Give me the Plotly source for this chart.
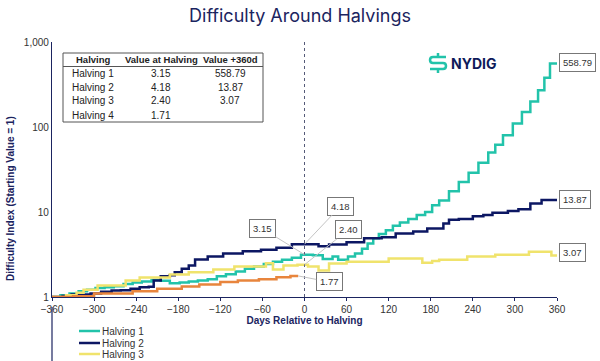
import math
import plotly.graph_objects as go

# ---------------- data ----------------
h1_days = [-360, -348, -335, -322, -310, -298, -285, -272, -258, -245, -232, -218, -205, -192, -178,
           -165, -152, -138, -125, -112, -98, -85, -72, -58, -45, -32, -18, -5, 12, 26, 40, 48, 62,
           72, 82, 90, 98, 106, 116, 126, 136, 148, 160, 172, 182, 192, 206, 220, 234, 248, 262, 272,
           283, 297, 310, 322, 333, 342, 350, 360]
h1_vals = [1.00, 1.05, 1.10, 1.17, 1.22, 1.28, 1.30, 1.34, 1.42, 1.48, 1.52, 1.58, 1.55, 1.45, 1.48,
           1.52, 1.56, 1.62, 1.75, 1.85, 2.00, 2.15, 2.28, 2.45, 2.60, 2.75, 2.90, 3.15, 3.10, 2.80, 3.00,
           2.75, 3.00, 3.25, 3.70, 4.25, 4.90, 5.50, 6.10, 6.90, 7.50, 8.30, 9.20, 10.0, 12.0, 13.7,
           17.5, 22.5, 29.0, 38.0, 50.0, 62.0, 80.0, 110.0, 150.0, 200.0, 270.0, 380.0, 558.79, 558.79]

h2_days = [-360, -345, -332, -318, -305, -290, -275, -262, -248, -235, -222, -215, -205, -192, -185,
           -175, -165, -156, -138, -116, -88, -62, -40, -18, 20, 35, 60, 85, 110, 130, 155, 175, 198,
           206, 220, 240, 255, 268, 290, 305, 322, 338, 360]
h2_vals = [1.00, 1.03, 1.07, 1.07, 1.10, 1.15, 1.19, 1.20, 1.25, 1.30, 1.32, 1.56, 1.75, 1.80, 1.96,
           2.15, 2.35, 2.76, 3.00, 3.25, 3.46, 3.60, 3.80, 4.18, 3.95, 4.15, 4.40, 4.90, 5.05, 5.60,
           5.90, 6.40, 7.30, 8.10, 8.30, 8.90, 9.20, 9.80, 10.3, 10.8, 12.6, 13.87, 13.87]

h3_days = [-360, -340, -325, -315, -295, -255, -235, -192, -165, -130, -100, -55, -45, -30, -10, 5,
           20, 35, 60, 120, 168, 182, 192, 232, 272, 320, 352, 360]
h3_vals = [1.00, 1.05, 1.12, 1.22, 1.37, 1.56, 1.70, 1.84, 1.96, 2.10, 2.28, 2.50, 2.10, 2.35, 2.40,
           2.28, 2.05, 2.47, 2.60, 2.83, 2.53, 2.65, 2.75, 3.00, 3.15, 3.40, 3.07, 3.07]

h4_days = [-360, -330, -300, -245, -210, -175, -150, -120, -95, -65, -40, -20, -9]
h4_vals = [1.00, 1.02, 1.10, 1.17, 1.25, 1.33, 1.40, 1.50, 1.56, 1.62, 1.71, 1.77, 1.77]

series_names = ["Halving 1", "Halving 2", "Halving 3", "Halving 4"]
series_colors = ["#22C3AA", "#0C1763", "#F0E36C", "#E8853D"]
legend_visible = [True, True, True, False]  # 4th entry is cropped off in the reference

table_header = ["Halving", "Value at Halving", "Value +360d"]
table_rows = [["Halving 1", "3.15", "558.79"],
              ["Halving 2", "4.18", "13.87"],
              ["Halving 3", "2.40", "3.07"],
              ["Halving 4", "1.71", ""]]

x_ticks = [-360, -300, -240, -180, -120, -60, 0, 60, 120, 180, 240, 300, 360]
y_ticks = [1, 10, 100, 1000]
y_tick_text = ["1", "10", "100", "1,000"]

# ---------------- layout helpers ----------------
W, H = 600, 361
L, R, T, B = 52, 43, 42, 64
PW, PH = W - L - R, H - T - B


def px(sx):
    """screen pixel x -> paper fraction"""
    return (sx - L) / PW


def py(sy):
    """screen pixel y -> paper fraction"""
    return (H - B - sy) / PH


NAVY = "#1B2460"
TXT = "#333333"

fig = go.Figure()
all_days = [h1_days, h2_days, h3_days, h4_days]
all_vals = [h1_vals, h2_vals, h3_vals, h4_vals]
for name, col, d, v in zip(series_names, series_colors, all_days, all_vals):
    fig.add_trace(go.Scatter(x=d, y=v, mode="lines", name=name, line_shape="hv",
                             line=dict(color=col, width=2.5), showlegend=False))

fig.update_layout(
    width=W, height=H,
    margin=dict(l=L, r=R, t=T, b=B, autoexpand=False),
    paper_bgcolor="white", plot_bgcolor="white",
    font=dict(family="Liberation Sans, Arial, sans-serif", size=10, color=TXT),
    title=dict(text="Difficulty Around Halvings", x=300 / W, xanchor="center",
               y=1 - 16 / H, yanchor="middle",
               font=dict(family="Inter, Open Sans, sans-serif", size=18, color=NAVY)),
    xaxis=dict(range=[-360, 360], tickvals=x_ticks, showgrid=False, zeroline=False, automargin=False,
               showline=True, linecolor=NAVY, linewidth=1.2, ticks="outside", ticklen=3,
               tickcolor=NAVY, tickfont=dict(size=10, color=TXT),
               title=dict(text="<b>Days Relative to Halving</b>", font=dict(size=10, color=NAVY),
                          standoff=2)),
    yaxis=dict(type="log", range=[0, 3], tickvals=y_ticks, ticktext=y_tick_text, showgrid=False,
               automargin=False,
               zeroline=False, showline=True, linecolor=NAVY, linewidth=1.2, ticks="",
               tickfont=dict(size=10, color=TXT)),
    showlegend=False,
)

shapes = []
# vertical dotted line at halving
shapes.append(dict(type="line", xref="x", yref="paper", x0=0, x1=0, y0=0, y1=1,
                   line=dict(color="#555a78", width=1, dash="dot")))
# y axis extension into legend area
shapes.append(dict(type="line", xref="paper", yref="paper", x0=0, x1=0, y0=py(361), y1=py(307),
                   line=dict(color=NAVY, width=1.2)))
# table box + header rule
shapes.append(dict(type="rect", xref="paper", yref="paper", x0=px(63), x1=px(263), y0=py(122), y1=py(53),
                   line=dict(color="#555555", width=1)))
shapes.append(dict(type="line", xref="paper", yref="paper", x0=px(63), x1=px(263), y0=py(66.5), y1=py(66.5),
                   line=dict(color="#555555", width=1)))
# logo icon (S with stems)
p = [(446, 57), (433, 57), (430, 57), (430, 60), (430, 63), (433, 63), (443, 63), (446, 63),
     (446, 66), (446, 69), (443, 69), (430, 69)]
path = (f"M {px(p[0][0])},{py(p[0][1])} L {px(p[1][0])},{py(p[1][1])} "
        f"Q {px(p[2][0])},{py(p[2][1])} {px(p[3][0])},{py(p[3][1])} "
        f"Q {px(p[4][0])},{py(p[4][1])} {px(p[5][0])},{py(p[5][1])} "
        f"L {px(p[6][0])},{py(p[6][1])} "
        f"Q {px(p[7][0])},{py(p[7][1])} {px(p[8][0])},{py(p[8][1])} "
        f"Q {px(p[9][0])},{py(p[9][1])} {px(p[10][0])},{py(p[10][1])} "
        f"L {px(p[11][0])},{py(p[11][1])}")
shapes.append(dict(type="path", xref="paper", yref="paper", path=path,
                   line=dict(color="#22C3AA", width=2.5)))
shapes.append(dict(type="line", xref="paper", yref="paper", x0=px(438), x1=px(438), y0=py(53), y1=py(57),
                   line=dict(color="#22C3AA", width=2.5)))
shapes.append(dict(type="line", xref="paper", yref="paper", x0=px(438), x1=px(438), y0=py(69), y1=py(73),
                   line=dict(color="#22C3AA", width=2.5)))

ann = []
# manual legend
leg_y = [331, 343, 354, 366]
for name, col, ly, vis in zip(series_names, series_colors, leg_y, legend_visible):
    if not vis:
        continue
    shapes.append(dict(type="line", xref="paper", yref="paper", x0=px(79), x1=px(100), y0=py(ly), y1=py(ly),
                       line=dict(color=col, width=2.5)))
    ann.append(dict(text=name, xref="paper", yref="paper", x=px(100), y=py(ly), showarrow=False,
                    xanchor="left", yanchor="middle", font=dict(size=10, color=TXT)))
fig.update_layout(shapes=shapes)

# y axis title
ann.append(dict(text="<b>Difficulty Index (Starting Value = 1)</b>", xref="paper", yref="paper",
                x=px(10), y=py(199), textangle=-90, showarrow=False,
                font=dict(size=10, color=NAVY), xanchor="center", yanchor="middle"))
# logo text
ann.append(dict(text="<b>NYDIG</b>", xref="paper", yref="paper", x=px(449), y=py(63.5), showarrow=False,
                xanchor="left", yanchor="middle",
                font=dict(family="Inter, Roboto, sans-serif", size=14, color="#0E1A5A")))
# table text
col_x = [93, 161, 230]
row_y = [60, 73.5, 87, 101, 115]
for j, h in enumerate(table_header):
    ann.append(dict(text=f"<b>{h}</b>", xref="paper", yref="paper", x=px(col_x[j]), y=py(row_y[0]),
                    showarrow=False, xanchor="center", yanchor="middle",
                    font=dict(size=9.5, color="#222222")))
for i, row in enumerate(table_rows):
    for j, cell in enumerate(row):
        if cell:
            ann.append(dict(text=cell, xref="paper", yref="paper", x=px(col_x[j]), y=py(row_y[i + 1]),
                            showarrow=False, xanchor="center", yanchor="middle",
                            font=dict(size=10, color="#222222")))

box = dict(bordercolor="#777777", borderwidth=1, borderpad=3, bgcolor="white",
           font=dict(size=9.5, color="#333333"))
# end labels
end_vals = [h1_vals[-1], h2_vals[-1], h3_vals[-1]]
end_py = [62, 199, 252]
for v, ypix in zip(end_vals, end_py):
    ann.append(dict(text=f"{v:.2f}", xref="paper", yref="paper", x=px(559), y=py(ypix),
                    xanchor="left", yanchor="middle", showarrow=False, **box))
# halving labels with leaders
lead = [(0, 3.15, -42, -26), (0, 4.18, 36, -38), (0, 2.40, 44, -35), (h4_days[-1], h4_vals[-1], 31, 6)]
for xd, v, axp, ayp in lead:
    ann.append(dict(text=f"{v:.2f}", x=xd, y=math.log10(v), xref="x", yref="y", showarrow=True,
                    arrowhead=0, arrowwidth=1, arrowcolor="#c4c4c4", ax=axp, ay=ayp, **box))
fig.update_layout(annotations=ann)

fig.write_html("out.html", config={"displayModeBar": False},
               post_script="document.body.style.margin='0px';")
